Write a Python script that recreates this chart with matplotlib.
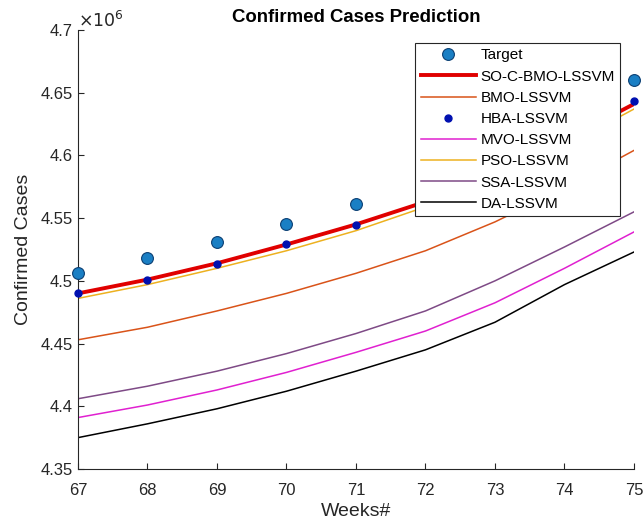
import numpy as np
import matplotlib.pyplot as plt
from matplotlib.ticker import FuncFormatter

plt.rcParams['font.family'] = ['Liberation Sans', 'DejaVu Sans']

weeks = [67, 68, 69, 70, 71, 72, 73, 74, 75]
# values in millions of cases
target = [4.5065, 4.518, 4.531, 4.545, 4.561, 4.583, 4.607, 4.633, 4.660]
so_c_bmo = [4.490, 4.501, 4.514, 4.529, 4.545, 4.563, 4.586, 4.612, 4.641]
bmo = [4.453, 4.463, 4.476, 4.490, 4.506, 4.524, 4.547, 4.574, 4.604]
hba = [4.4905, 4.5008, 4.5135, 4.5295, 4.5447, 4.5625, 4.5855, 4.612, 4.6435]
mvo = [4.391, 4.401, 4.413, 4.427, 4.443, 4.460, 4.4825, 4.510, 4.539]
pso = [4.486, 4.497, 4.510, 4.524, 4.540, 4.559, 4.580, 4.607, 4.637]
ssa = [4.406, 4.416, 4.428, 4.442, 4.458, 4.476, 4.500, 4.527, 4.555]
da = [4.375, 4.386, 4.398, 4.412, 4.428, 4.445, 4.467, 4.497, 4.523]

scale = 1e6
w = np.array(weeks)

fig = plt.figure(figsize=(6.43, 5.26), dpi=100)
ax = fig.add_axes([0.1213, 0.1084, 0.8647, 0.8346])

ax.plot(w, np.array(target) * scale, 'o', ms=8.5, mfc='#1a7fc4', mec='#0b3f73',
        mew=0.8, label='Target', clip_on=False, zorder=5)
ax.plot(w, np.array(so_c_bmo) * scale, color='#e00000', lw=2.8, label='SO-C-BMO-LSSVM')
ax.plot(w, np.array(bmo) * scale, color='#d95319', lw=1.1, label='BMO-LSSVM')
ax.plot(w, np.array(hba) * scale, 'o', ms=5, mfc='#0010b0', mec='#0010b0',
        label='HBA-LSSVM', clip_on=False, zorder=6)
ax.plot(w, np.array(mvo) * scale, color='#e020d0', lw=1.1, label='MVO-LSSVM')
ax.plot(w, np.array(pso) * scale, color='#edb120', lw=1.1, label='PSO-LSSVM')
ax.plot(w, np.array(ssa) * scale, color='#7e4a86', lw=1.1, label='SSA-LSSVM')
ax.plot(w, np.array(da) * scale, color='black', lw=1.1, label='DA-LSSVM')

ax.set_xlim(67, 75)
ax.set_ylim(4.35e6, 4.7e6)
ax.set_yticks(np.arange(4.35, 4.701, 0.05) * scale)
ax.yaxis.set_major_formatter(FuncFormatter(lambda v, p: '%g' % round(v / scale, 3)))
ax.text(0.0, 1.0, r'$\times10^{6}$', transform=ax.transAxes, fontsize=12.5,
        color='#262626', ha='left', va='bottom')

for s in ['top', 'right']:
    ax.spines[s].set_visible(False)
for s in ['left', 'bottom']:
    ax.spines[s].set_color('#262626')
ax.tick_params(direction='in', labelsize=12, colors='#262626', length=4)
ax.tick_params(axis='x', pad=10)
ax.tick_params(axis='y', pad=4)

ax.set_title('Confirmed Cases Prediction', fontsize=13.4, fontweight='bold', pad=6)
ax.set_xlabel('Weeks#', fontsize=14, color='#262626', labelpad=4)
ax.set_ylabel('Confirmed Cases', fontsize=14, color='#262626', labelpad=6)

leg = ax.legend(loc='upper right', bbox_to_anchor=(0.975, 0.97), fontsize=11,
                fancybox=False, framealpha=1, edgecolor='#262626',
                handlelength=3.6, labelspacing=0.47, borderpad=0.35,
                borderaxespad=0, handletextpad=0.3)
leg.get_frame().set_linewidth(0.8)
leg.set_zorder(10)

fig.savefig('out.png', dpi=100)
